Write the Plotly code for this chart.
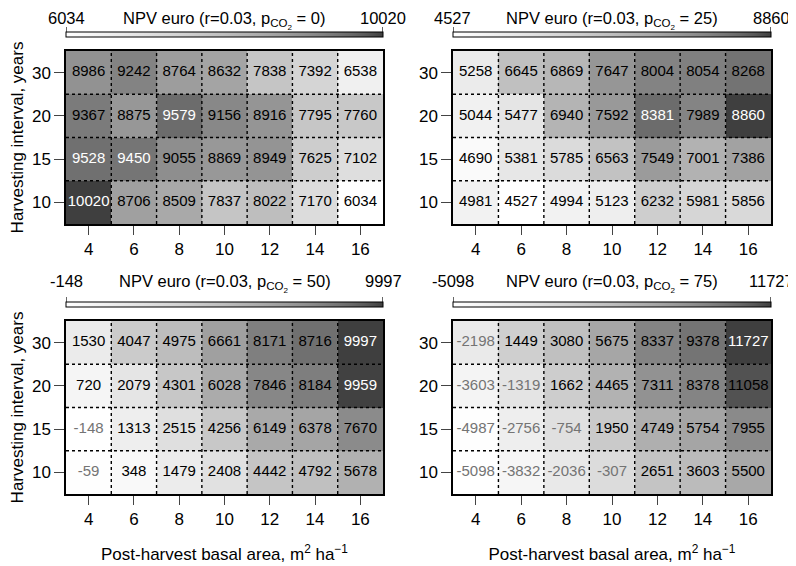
import numpy as np
import plotly.graph_objects as go

# post-harvest basal area (x) and harvesting interval (y, bottom to top)
basal_area = [4, 6, 8, 10, 12, 14, 16]
interval = ['10', '15', '20', '30']

co2_prices = [0, 25, 50, 75]

# NPV rows ordered as interval: 10, 15, 20, 30
npv_p0 = [[10020, 8706, 8509, 7837, 8022, 7170, 6034],
          [9528, 9450, 9055, 8869, 8949, 7625, 7102],
          [9367, 8875, 9579, 9156, 8916, 7795, 7760],
          [8986, 9242, 8764, 8632, 7838, 7392, 6538]]
npv_p25 = [[4981, 4527, 4994, 5123, 6232, 5981, 5856],
           [4690, 5381, 5785, 6563, 7549, 7001, 7386],
           [5044, 5477, 6940, 7592, 8381, 7989, 8860],
           [5258, 6645, 6869, 7647, 8004, 8054, 8268]]
npv_p50 = [[-59, 348, 1479, 2408, 4442, 4792, 5678],
           [-148, 1313, 2515, 4256, 6149, 6378, 7670],
           [720, 2079, 4301, 6028, 7846, 8184, 9959],
           [1530, 4047, 4975, 6661, 8171, 8716, 9997]]
npv_p75 = [[-5098, -3832, -2036, -307, 2651, 3603, 5500],
           [-4987, -2756, -754, 1950, 4749, 5754, 7955],
           [-3603, -1319, 1662, 4465, 7311, 8378, 11058],
           [-2198, 1449, 3080, 5675, 8337, 9378, 11727]]

# cells whose label is printed in white
white_labels = [[10020, 9528, 9450, 9579], [8381, 8860], [9959, 9997], [11727]]

panels = [npv_p0, npv_p25, npv_p50, npv_p75]

W, H = 796, 566
OFF = 8  # page body margin of the html page
font = "Liberation Sans, Arial, sans-serif"

# pixel boxes of the four panels on screen: (left, right, top, bottom)
boxes = [(66, 383, 51, 224), (453, 771, 51, 224),
         (66, 383, 321, 494), (453, 771, 321, 494)]


def px_x(v):
    return (v - OFF) / W


def px_y(v):
    return 1 - (v - OFF) / H


# reversed grey ramp with gamma, white (low) to dark grey (high)
g0 = 0.25 ** 2.2
grey_scale = []
for t in np.linspace(0, 1, 21):
    lev = ((1 - t) * (1 - g0) + g0) ** (1 / 2.2) * 255
    grey_scale.append([float(t), 'rgb(%d,%d,%d)' % (lev, lev, lev)])

fig = go.Figure()
shapes = []
annotations = []

xs = np.array(basal_area)
step = xs[1] - xs[0]
x_edges = [xs[0] - step / 2, xs[-1] + step / 2]
x_bounds = (xs[:-1] + xs[1:]) / 2

for i, z in enumerate(panels):
    n = '' if i == 0 else str(i + 1)
    l, r, t, b = boxes[i]
    z = np.array(z)
    zmin, zmax = int(z.min()), int(z.max())

    fig.add_trace(go.Heatmap(
        x=basal_area, y=interval, z=z, xaxis='x' + n, yaxis='y' + n,
        colorscale=grey_scale, zmin=zmin, zmax=zmax, hoverinfo='skip',
        colorbar=dict(orientation='h', x=px_x((l + r) / 2), xanchor='center',
                      y=px_y(t - 13), yanchor='bottom', len=(r - l) / W,
                      lenmode='fraction', thickness=5, outlinewidth=1,
                      outlinecolor='black', showticklabels=False, ticks='',
                      xpad=0, ypad=0, borderwidth=0)))

    gx, gy = np.meshgrid(basal_area, interval)
    vals = z.ravel()
    colors = ['white' if v in white_labels[i] else ('#747474' if v < 0 else 'black')
              for v in vals]
    fig.add_trace(go.Scatter(
        x=gx.ravel(), y=gy.ravel(), mode='text', text=[str(v) for v in vals],
        textfont=dict(size=15, color=colors, family=font),
        xaxis='x' + n, yaxis='y' + n, hoverinfo='skip', showlegend=False))

    # dotted cell separators
    for xb in x_bounds:
        shapes.append(dict(type='line', xref='x' + n, yref='y%s domain' % n,
                           x0=xb, x1=xb, y0=0, y1=1, layer='above',
                           line=dict(color='black', width=1.4, dash='dot')))
    for yb in np.arange(len(interval) - 1) + 0.5:
        shapes.append(dict(type='line', xref='x%s domain' % n, yref='y' + n,
                           x0=0, x1=1, y0=yb, y1=yb, layer='above',
                           line=dict(color='black', width=1.4, dash='dot')))
    # end ticks of the colour key
    for xe in x_edges:
        shapes.append(dict(type='line', xref='x' + n, yref='paper',
                           x0=xe, x1=xe, y0=px_y(t - 15), y1=px_y(t - 24),
                           line=dict(color='black', width=1.2)))

    # key labels (top-anchored so the subscript does not lift the baseline)
    ky = px_y(max(OFF, t - 50))
    lab = dict(xref='x' + n, y=ky, yref='paper', showarrow=False,
               xanchor='center', yanchor='top', borderpad=0,
               font=dict(size=16.5, family=font, color='black'))
    annotations += [
        dict(lab, text=str(zmin), x=x_edges[0]),
        dict(lab, text=str(zmax), x=x_edges[1]),
        dict(lab, text='NPV euro (r=0.03, p<sub>CO<sub>2</sub></sub> = %d)' % co2_prices[i],
             x=float(np.mean(x_edges))),
    ]

    ax = dict(domain=[px_x(l), px_x(r)], anchor='y' + n, range=x_edges,
              tickvals=basal_area, ticks='outside', ticklen=9, tickwidth=1.2,
              showline=True, mirror=True, linecolor='black', linewidth=1.5,
              showgrid=False, zeroline=False, tickfont=dict(size=17, family=font),
              fixedrange=True)
    ay = dict(domain=[px_y(b), px_y(t)], anchor='x' + n, type='category',
              range=[-0.5, len(interval) - 0.5], ticks='outside', ticklen=10,
              tickwidth=1.2, showline=True, mirror=True, linecolor='black',
              linewidth=1.5, showgrid=False, zeroline=False,
              tickfont=dict(size=17, family=font), fixedrange=True)
    if i >= 2:
        ax['title'] = dict(text='Post-harvest basal area, m<sup>2</sup> ha<sup>\u22121</sup>',
                           font=dict(size=17, family=font), standoff=20)
    if i % 2 == 0:
        ay['title'] = dict(text='Harvesting interval, years',
                           font=dict(size=17, family=font), standoff=6)
    fig.layout['xaxis' + n] = ax
    fig.layout['yaxis' + n] = ay

fig.update_layout(
    width=W, height=H, template='none', showlegend=False,
    margin=dict(l=0, r=0, t=0, b=0),
    paper_bgcolor='white', plot_bgcolor='white',
    font=dict(family=font, color='black'),
    shapes=shapes, annotations=annotations)

fig.write_html("out.html")
